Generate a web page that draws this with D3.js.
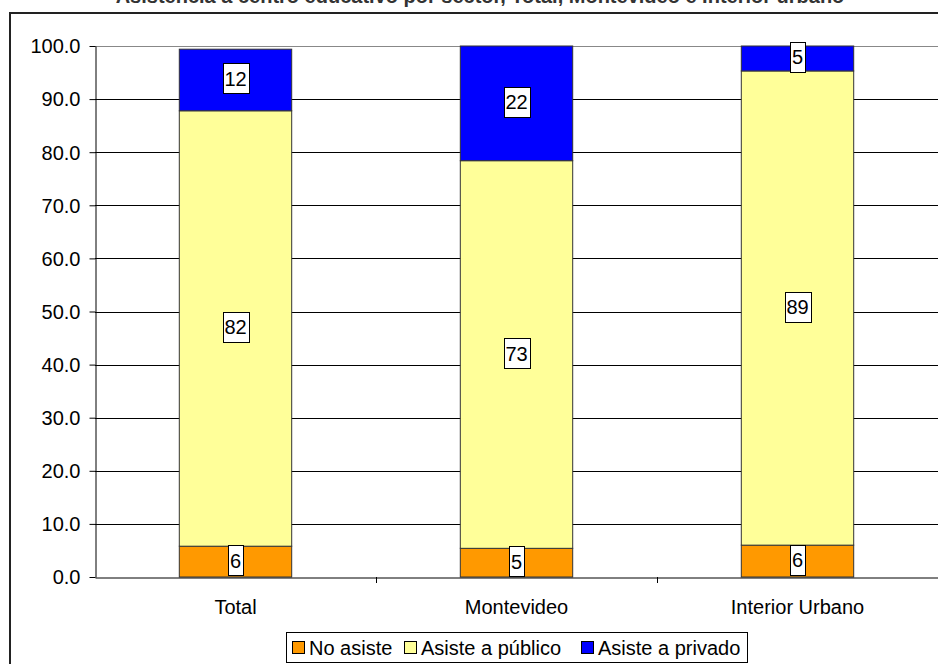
<!DOCTYPE html>
<html>
<head>
<meta charset="utf-8">
<script src="https://cdn.jsdelivr.net/npm/d3@7.9.0/dist/d3.min.js"></script>
<style>
  body { margin: 0; background: #fff; }
  svg { display: block; font-family: Arial, "Liberation Sans", sans-serif; }
</style>
</head>
<body>
<div id="chart"></div>
<script>
const categories = ['Total', 'Montevideo', 'Interior Urbano'];
const series = ['No asiste', 'Asiste a público', 'Asiste a privado'];
const noAsiste = [5.8, 5.4, 6.0];
const publico = [82.0, 73.0, 89.3];
const privado = [11.6, 21.6, 4.7];
const labels = [['6', '82', '12'], ['5', '73', '22'], ['6', '89', '5']];
const yTicks = [0, 10, 20, 30, 40, 50, 60, 70, 80, 90, 100];
const colors = ['#ff9900', '#ffff99', '#0000ff'];
const title = 'Asistencia a centro educativo por sector, Total, Montevideo e Interior urbano';

const width = 938, height = 664;
const plot = { left: 95, right: 938, top: 46, bottom: 577 };
const font = 'Arial, "Liberation Sans", sans-serif';

const svg = d3.select('#chart').append('svg')
  .attr('width', width).attr('height', height);

// title, mostly cut off at the top like the reference
svg.append('text')
  .attr('x', 480).attr('y', 3)
  .attr('text-anchor', 'middle')
  .attr('font-size', 20).attr('font-weight', 'bold')
  .attr('fill', '#333')
  .text(title);

// chart area border
svg.append('rect')
  .attr('x', 10).attr('y', 13)
  .attr('width', 940).attr('height', 700)
  .attr('fill', 'none').attr('stroke', '#222').attr('stroke-width', 2);

const x = d3.scaleBand().domain(categories).range([plot.left, plot.right]).paddingInner(0).paddingOuter(0);
const y = d3.scaleLinear().domain([0, 100]).range([plot.bottom, plot.top]);

// gridlines
svg.append('g')
  .selectAll('line')
  .data(yTicks.filter(d => d > 0))
  .join('line')
  .attr('x1', plot.left).attr('x2', plot.right)
  .attr('y1', d => Math.round(y(d)) + 0.5).attr('y2', d => Math.round(y(d)) + 0.5)
  .attr('stroke', d => d === 100 ? '#888' : '#000')
  .attr('stroke-width', 1);

// y axis
const yAxis = svg.append('g')
  .attr('transform', `translate(${plot.left + 0.5},0)`)
  .call(d3.axisLeft(y).tickValues(yTicks).tickFormat(d3.format('.1f')).tickSize(6).tickSizeOuter(0));
yAxis.select('.domain').attr('stroke', '#000');
yAxis.selectAll('.tick line').attr('stroke', '#000');
yAxis.selectAll('.tick text')
  .attr('font-size', 20).attr('font-family', font)
  .attr('fill', '#000').attr('x', -15).attr('dy', '0.34em');

// stacked bars
const rows = categories.map((c, i) => ({
  cat: c, 'No asiste': noAsiste[i], 'Asiste a público': publico[i], 'Asiste a privado': privado[i]
}));
const stack = d3.stack().keys(series)(rows);
const barW = x.bandwidth() * 0.4;

const layers = svg.append('g').selectAll('g')
  .data(stack)
  .join('g')
  .attr('fill', (d, k) => colors[k]);

layers.selectAll('rect')
  .data(d => d)
  .join('rect')
  .attr('x', d => x(d.data.cat) + (x.bandwidth() - barW) / 2)
  .attr('width', barW)
  .attr('y', d => y(d[1]))
  .attr('height', d => y(d[0]) - y(d[1]))
  .attr('stroke', '#333').attr('stroke-width', 1);

// x axis
const xAxis = svg.append('g')
  .attr('transform', `translate(0,${Math.round(plot.bottom) + 0.5})`)
  .call(d3.axisBottom(x).tickSize(0).tickSizeOuter(0));
xAxis.select('.domain').attr('stroke', '#000');
xAxis.selectAll('.tick text')
  .attr('font-size', 20).attr('font-family', font)
  .attr('fill', '#000').attr('y', 36).attr('dy', 0);
// separator ticks between categories
svg.append('g').selectAll('line')
  .data(categories.slice(1))
  .join('line')
  .attr('x1', d => Math.round(x(d)) + 0.5).attr('x2', d => Math.round(x(d)) + 0.5)
  .attr('y1', plot.bottom).attr('y2', plot.bottom + 6)
  .attr('stroke', '#000');

// data labels
const labelG = svg.append('g');
stack.forEach((layer, k) => {
  layer.forEach((d, i) => {
    const cx = x(d.data.cat) + x.bandwidth() / 2;
    const cy = (y(d[0]) + y(d[1])) / 2 - 1.5;
    const t = labels[i][k];
    const w = t.length * 11 + 4;
    const h = 30;
    labelG.append('rect')
      .attr('x', Math.round(cx - w / 2) + 0.5).attr('y', Math.round(cy - h / 2) + 0.5)
      .attr('width', w).attr('height', h)
      .attr('fill', '#fff').attr('stroke', '#000');
    labelG.append('text')
      .attr('x', cx).attr('y', cy + 7.5)
      .attr('text-anchor', 'middle')
      .attr('font-size', 20).attr('fill', '#000')
      .text(t);
  });
});

// legend
const legend = svg.append('g');
legend.append('rect')
  .attr('x', 286.5).attr('y', 632.5).attr('width', 461).attr('height', 30)
  .attr('fill', '#fff').attr('stroke', '#000');
const legX = [292, 404, 581];
series.forEach((s, k) => {
  legend.append('rect')
    .attr('x', legX[k] + 0.5).attr('y', 641.5).attr('width', 12).attr('height', 12)
    .attr('fill', colors[k]).attr('stroke', '#000');
  legend.append('text')
    .attr('x', legX[k] + 17).attr('y', 655)
    .attr('font-size', 20).attr('fill', '#000')
    .text(s);
});
</script>
</body>
</html>
